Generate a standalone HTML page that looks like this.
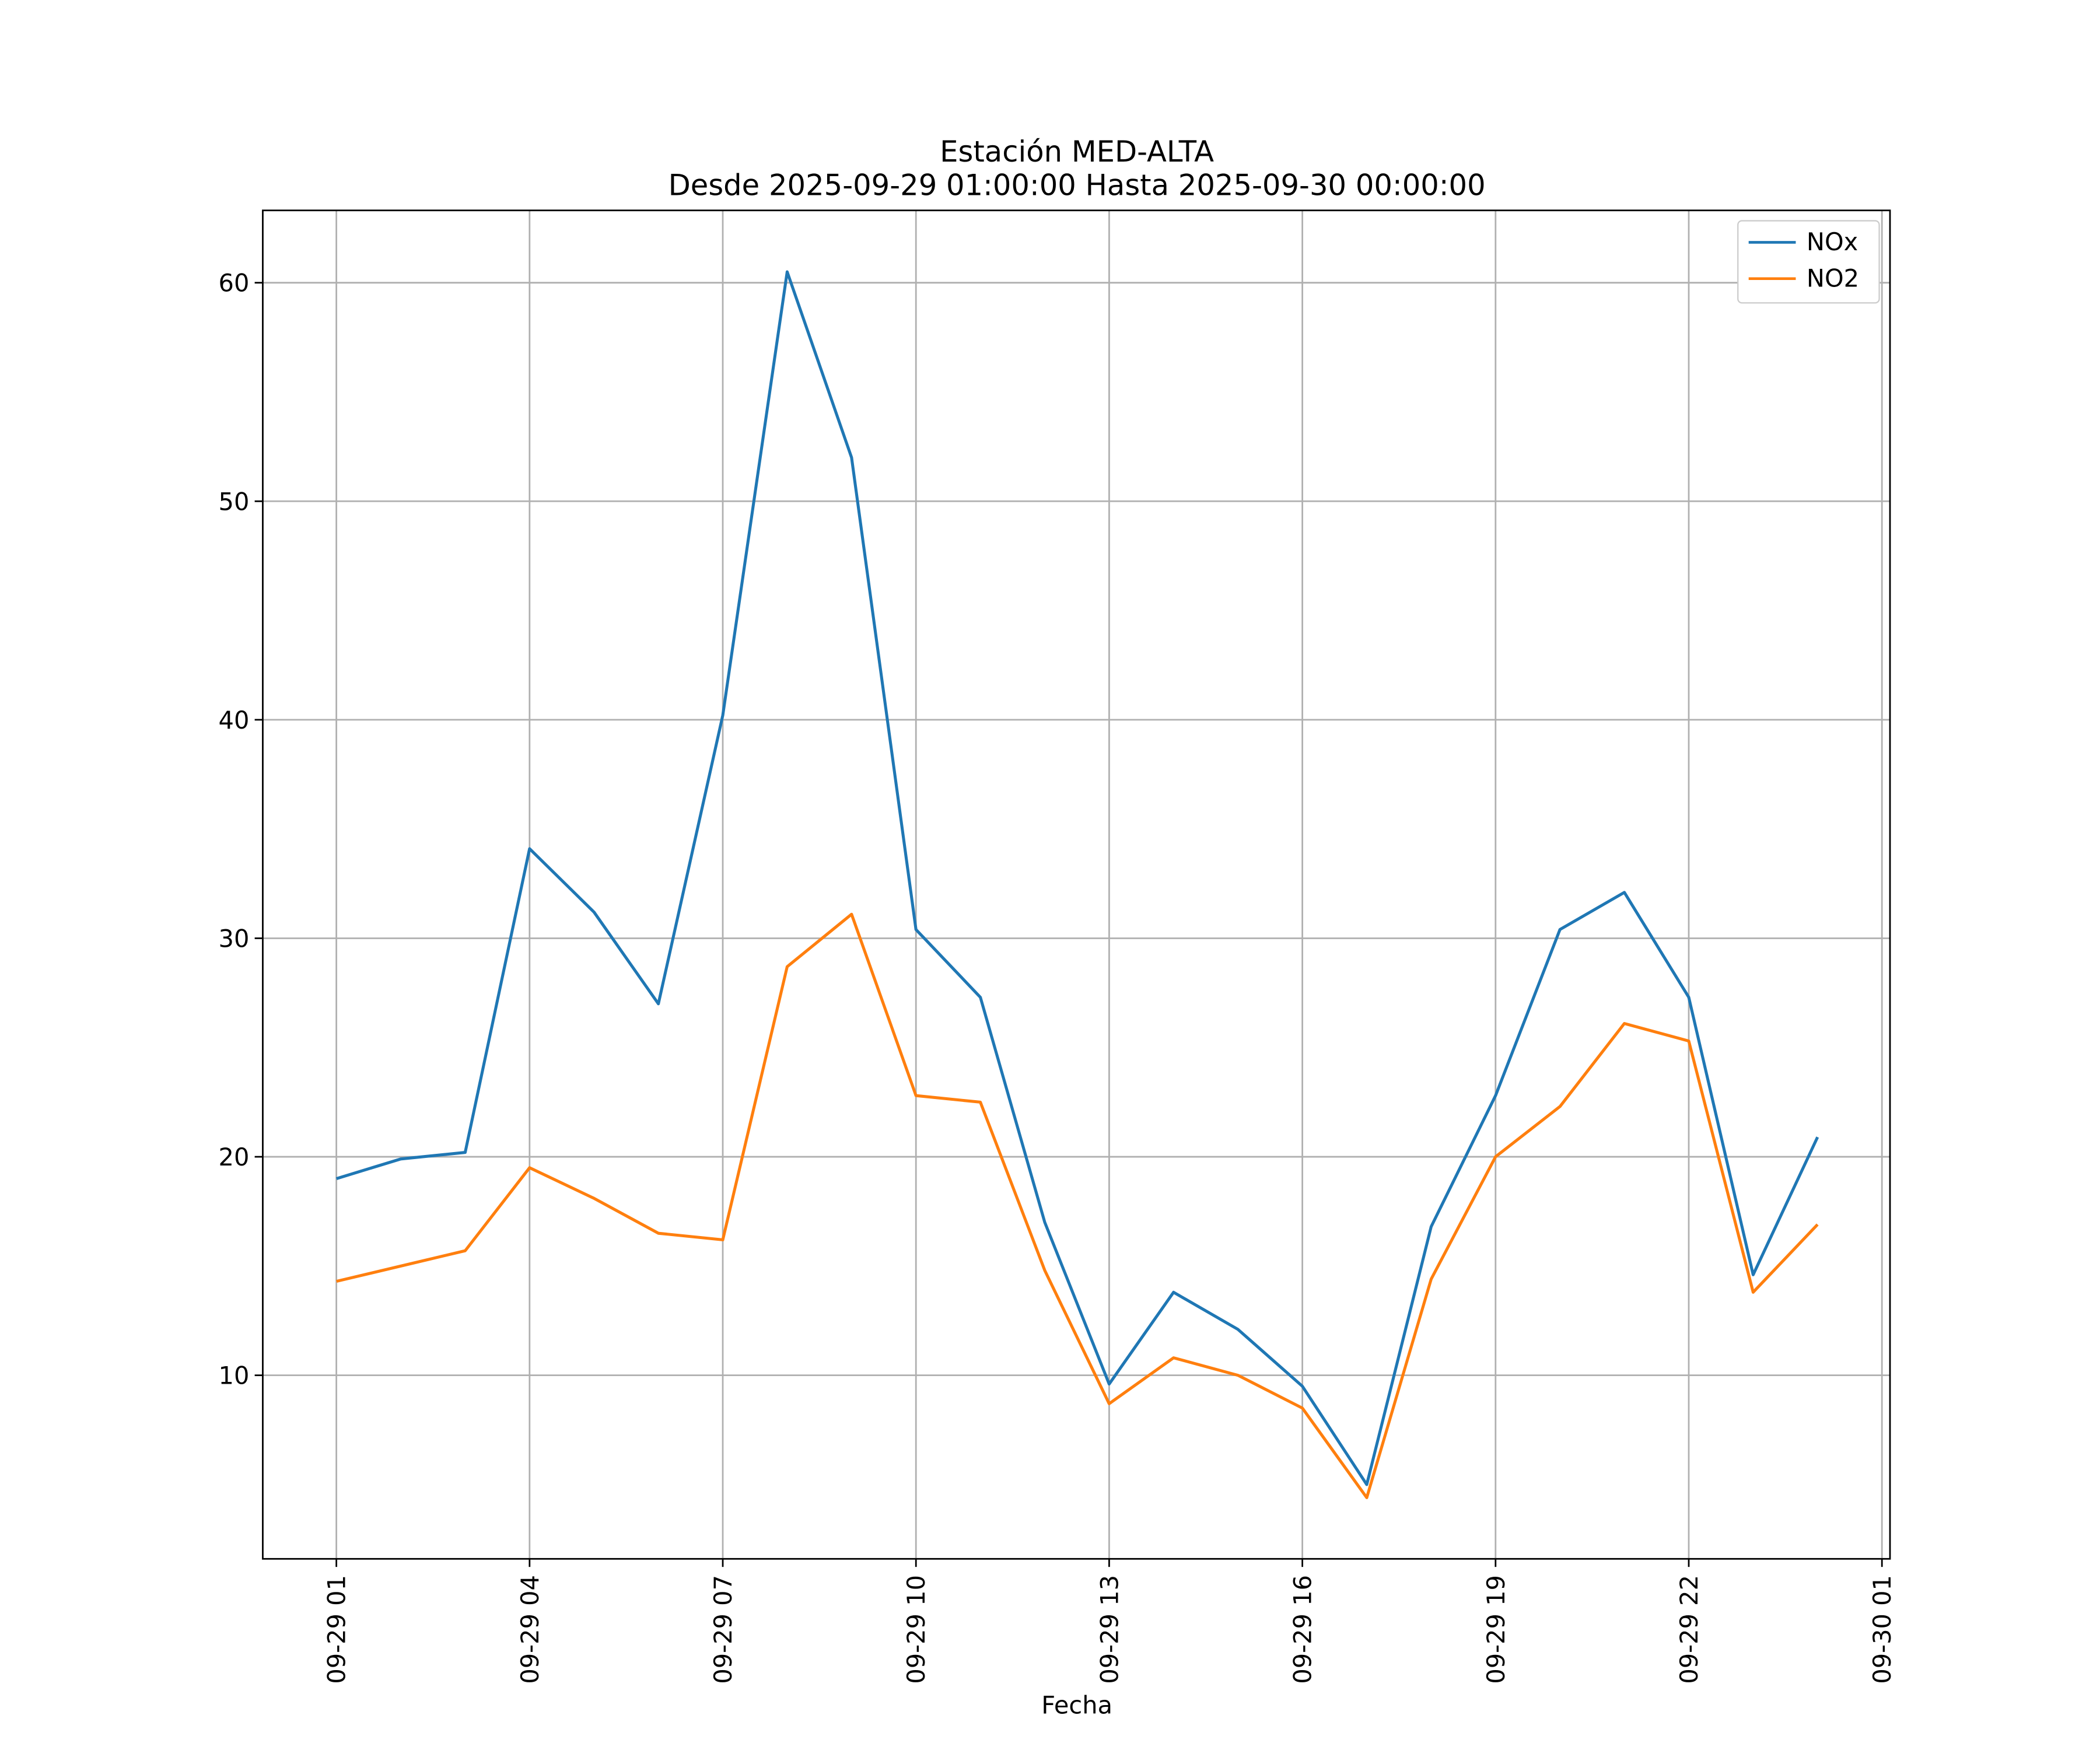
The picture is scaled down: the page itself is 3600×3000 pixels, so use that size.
<!DOCTYPE html>
<html><head><meta charset="utf-8"><style>html,body{margin:0;padding:0;background:#fff}svg{display:block}text{font-family:"DejaVu Sans","Liberation Sans",sans-serif;fill:#000}</style></head>
<body>
<svg id="chart" width="3600" height="3000" viewBox="0 0 1560 1300" xmlns="http://www.w3.org/2000/svg">
<rect width="1560" height="1300" fill="#fff"/>
<text x="800" y="120" font-size="21.5" text-anchor="middle">Estación MED-ALTA</text>
<text x="800" y="145" font-size="21.5" text-anchor="middle">Desde 2025-09-29 01:00:00 Hasta 2025-09-30 00:00:00</text>
<g id="grid"></g><g id="series"></g><g id="axes"></g>
<text x="800" y="1273" font-size="18" text-anchor="middle">Fecha</text>
<g>
<rect x="1291" y="164" width="105" height="61" fill="#fff" stroke="#ccc" rx="3"/>
<line x1="1299" y1="180" x2="1334" y2="180" stroke="#1f77b4" stroke-width="2"/>
<text x="1342" y="186" font-size="18">NOx</text>
<line x1="1299" y1="207" x2="1334" y2="207" stroke="#ff7f0e" stroke-width="2"/>
<text x="1342" y="213" font-size="18">NO2</text>
</g>
</svg>
<script>
const hours = [0,1,2,3,4,5,6,7,8,9,10,11,12,13,14,15,16,17,18,19,20,21,22,23];
const noxValues = [19.0,19.9,20.2,34.1,31.2,27.0,40.2,60.5,52.0,30.4,27.3,17.0,9.6,13.8,12.1,9.5,5.0,16.8,22.8,30.4,32.1,27.3,14.6,20.9];
const no2Values = [14.3,15.0,15.7,19.5,18.1,16.5,16.2,28.7,31.1,22.8,22.5,14.8,8.7,10.8,10.0,8.5,4.4,14.4,20.0,22.3,26.1,25.3,13.8,16.9];
const yTicks = [10,20,30,40,50,60];
const xTickHours = [0,3,6,9,12,15,18,21,24];
const xTickLabels = ["09-29 01","09-29 04","09-29 07","09-29 10","09-29 13","09-29 16","09-29 19","09-29 22","09-30 01"];

const L=195.2,R=1404,T=156.3,B=1158;
const xMin=-1.143,xMax=24.125,yMin=1.60,yMax=63.31;
const xs=h=>L+(h-xMin)/(xMax-xMin)*(R-L);
const ys=v=>B-(v-yMin)/(yMax-yMin)*(B-T);
const NS="http://www.w3.org/2000/svg";
function mk(tag,attrs,parent){const e=document.createElementNS(NS,tag);for(const k in attrs)e.setAttribute(k,attrs[k]);parent.appendChild(e);return e;}
const grid=document.getElementById('grid'),axes=document.getElementById('axes'),ser=document.getElementById('series');
yTicks.forEach(v=>{
  const y=ys(v);
  const g=mk('line',{x1:L,x2:R,y1:y,y2:y,stroke:'#b0b0b0','stroke-width':1.2},grid);
  
  
  mk('line',{x1:L-6,x2:L,y1:y,y2:y,stroke:'#000','stroke-width':1.2},axes);
  const t=mk('text',{x:L-10,y:y+6.5,'font-size':18,'text-anchor':'end'},axes);
  t.textContent=v;
  
  
});
xTickHours.forEach((h,i)=>{
  const x=xs(h);
  const g=mk('line',{x1:x,x2:x,y1:T,y2:B,stroke:'#b0b0b0','stroke-width':1.2},grid);
  
  
  mk('line',{x1:x,x2:x,y1:B,y2:B+6,stroke:'#000','stroke-width':1.2},axes);
  const t=mk('text',{x:x+6.5,y:B+12,'font-size':18,'text-anchor':'end',transform:`rotate(-90 ${x+6.5} ${B+12})`},axes);
  t.textContent=xTickLabels[i];
  
  
});
const frame=mk('rect',{x:L,y:T,width:R-L,height:B-T,fill:'none',stroke:'#000','stroke-width':1.2},axes);


function line(vals,color,name){
  const p=mk('polyline',{points:vals.map((v,i)=>xs(hours[i])+','+ys(v)).join(' '),fill:'none',stroke:color,'stroke-width':2.2,'stroke-linejoin':'round'},ser);
  
  
}
line(noxValues,'#1f77b4','nox-line');
line(no2Values,'#ff7f0e','no2-line');
</script>
</body></html>
